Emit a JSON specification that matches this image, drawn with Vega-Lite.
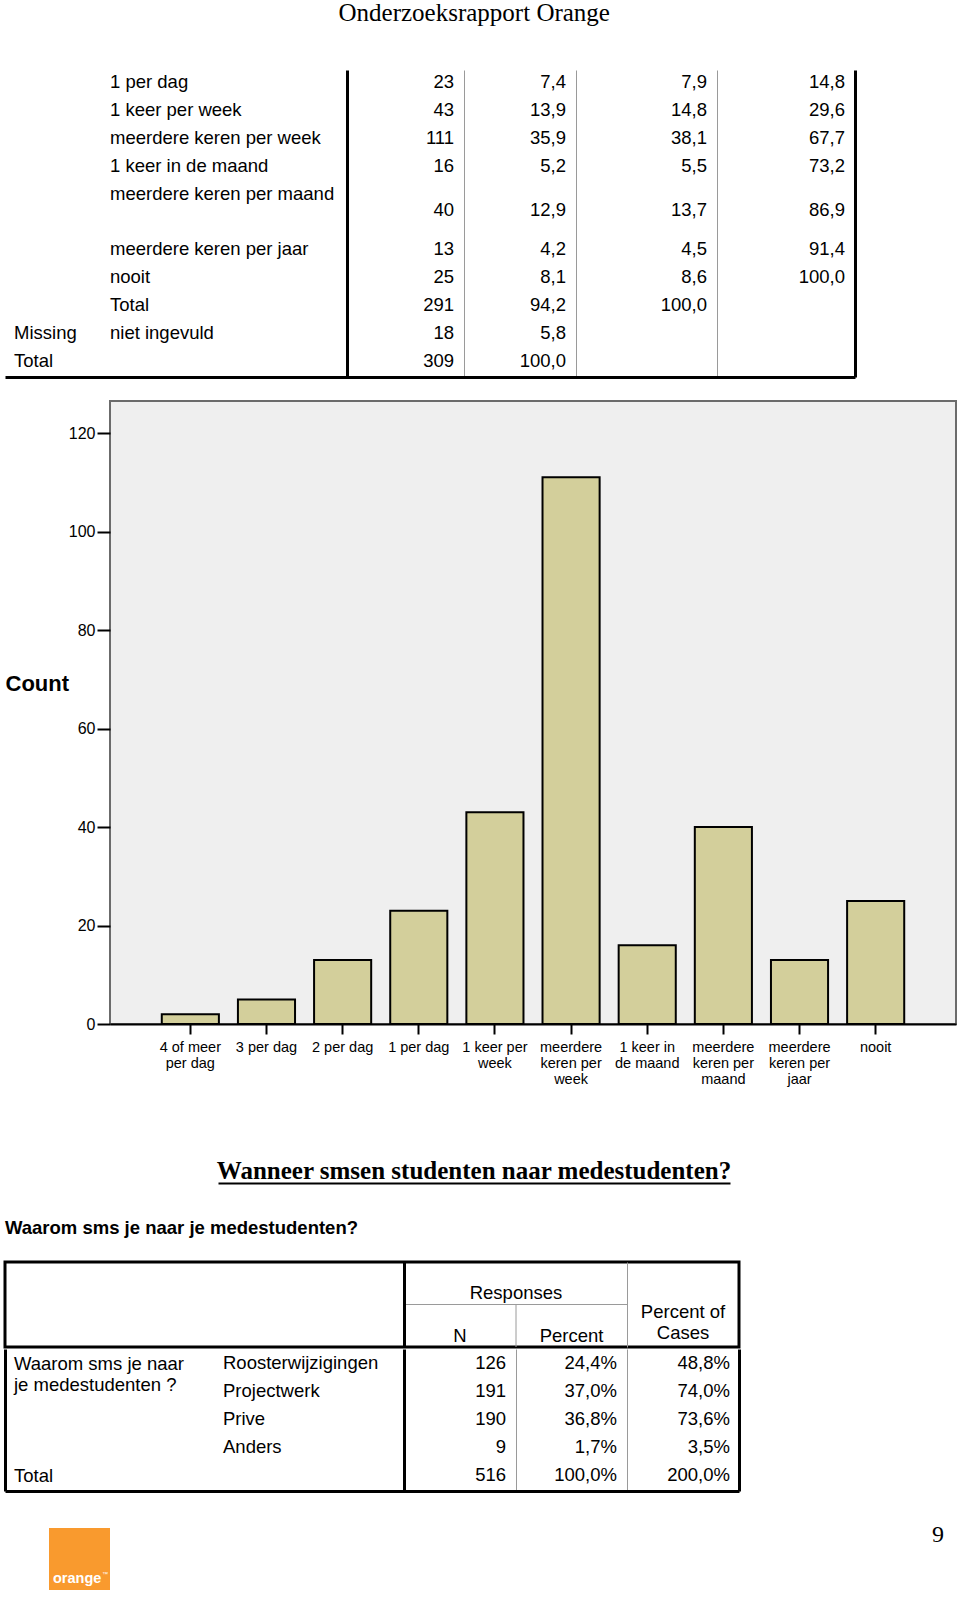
{
  "$schema": "https://vega.github.io/schema/vega-lite/v6.json",
  "background": "white",
  "padding": {"left": 3, "top": 1, "right": 0, "bottom": 0},
  "title": {"text": "Onderzoeksrapport Orange", "font": "Liberation Serif", "fontSize": 25, "fontWeight": "normal", "color": "black", "anchor": "middle", "offset": 44, "dx": -6},
  "spacing": 0,
  "align": "none",
  "vconcat": [
    {
      "width": 850, "height": 307,
      "data": {"values": [
        {"rij": "r1", "groep": "", "label": "1 per dag", "n": 23, "pct": 7.4, "valid": 7.9, "cum": 14.8},
        {"rij": "r2", "groep": "", "label": "1 keer per week", "n": 43, "pct": 13.9, "valid": 14.8, "cum": 29.6},
        {"rij": "r3", "groep": "", "label": "meerdere keren per week", "n": 111, "pct": 35.9, "valid": 38.1, "cum": 67.7},
        {"rij": "r4", "groep": "", "label": "1 keer in de maand", "n": 16, "pct": 5.2, "valid": 5.5, "cum": 73.2},
        {"rij": "r5", "groep": "", "label": "meerdere keren per maand", "n": 40, "pct": 12.9, "valid": 13.7, "cum": 86.9},
        {"rij": "r6", "groep": "", "label": "meerdere keren per jaar", "n": 13, "pct": 4.2, "valid": 4.5, "cum": 91.4},
        {"rij": "r7", "groep": "", "label": "nooit", "n": 25, "pct": 8.1, "valid": 8.6, "cum": 100.0},
        {"rij": "r8", "groep": "", "label": "Total", "n": 291, "pct": 94.2, "valid": 100.0, "cum": null},
        {"rij": "r9", "groep": "Missing", "label": "niet ingevuld", "n": 18, "pct": 5.8, "valid": null, "cum": null},
        {"rij": "r10", "groep": "Total", "label": "", "n": 309, "pct": 100.0, "valid": null, "cum": null}
      ]},
      "encoding": {
        "y": {"field": "rij", "type": "ordinal", "scale": {"type": "band", "domain": ["r1", "r2", "r3", "r4", "r5", "r5b", "r6", "r7", "r8", "r9", "r10"], "paddingInner": 0, "paddingOuter": 0}, "axis": null}
      },
      "layer": [
        {
          "mark": {"type": "text", "align": "left", "dx": 9, "dy": -2},
          "encoding": {
            "x": {"datum": 0, "type": "quantitative",
              "scale": {"type": "linear", "domain": [0, 1, 2, 3, 4, 5, 6], "range": [0, 96, 342, 459, 571, 712, 850], "nice": false, "zero": false},
              "axis": {"orient": "bottom", "values": [2, 3, 4, 5, 6], "grid": true,
                "gridColor": {"condition": {"test": "datum.value === 2 || datum.value === 6", "value": "black"}, "value": "#9a9a9a"},
                "gridWidth": {"condition": {"test": "datum.value === 2 || datum.value === 6", "value": 3}, "value": 1},
                "labels": false, "ticks": false, "domain": true, "domainColor": "black", "domainWidth": 3, "title": null, "zindex": 1}},
            "text": {"field": "groep"}
          }
        },
        {
          "mark": {"type": "text", "align": "left", "dx": 9, "dy": -2},
          "encoding": {"x": {"datum": 1, "type": "quantitative"}, "text": {"field": "label"}}
        },
        {
          "mark": {"type": "text", "align": "right", "dx": -10, "dy": {"expr": "datum.rij === 'r5' ? 14 : -2"}},
          "encoding": {"x": {"datum": 3, "type": "quantitative"}, "text": {"field": "n", "type": "quantitative", "format": "d"}}
        },
        {
          "mark": {"type": "text", "align": "right", "dx": -10, "dy": {"expr": "datum.rij === 'r5' ? 14 : -2"}},
          "encoding": {"x": {"datum": 4, "type": "quantitative"}, "text": {"field": "pct", "type": "quantitative", "format": ".1f"}}
        },
        {
          "transform": [{"filter": "isValid(datum.valid)"}],
          "mark": {"type": "text", "align": "right", "dx": -10, "dy": {"expr": "datum.rij === 'r5' ? 14 : -2"}},
          "encoding": {"x": {"datum": 5, "type": "quantitative"}, "text": {"field": "valid", "type": "quantitative", "format": ".1f"}}
        },
        {
          "transform": [{"filter": "isValid(datum.cum)"}],
          "mark": {"type": "text", "align": "right", "dx": -10, "dy": {"expr": "datum.rij === 'r5' ? 14 : -2"}},
          "encoding": {"x": {"datum": 6, "type": "quantitative"}, "text": {"field": "cum", "type": "quantitative", "format": ".1f"}}
        }
      ]
    },
    {
      "width": 10, "height": 23,
      "data": {"values": [{}]},
      "mark": {"type": "text", "text": ""}
    },
    {
      "spacing": 0,
      "bounds": "flush",
      "hconcat": [
        {
          "width": 105, "height": 623,
          "data": {"values": [{}]},
          "mark": {"type": "text", "text": ""}
        },
        {
          "width": 846, "height": 623,
          "view": {"fill": "#EFEFEF", "stroke": "#6b6b6b", "strokeWidth": 2},
          "data": {"values": [
            {"frequentie": "4 of meer per dag", "aantal": 2},
            {"frequentie": "3 per dag", "aantal": 5},
            {"frequentie": "2 per dag", "aantal": 13},
            {"frequentie": "1 per dag", "aantal": 23},
            {"frequentie": "1 keer per week", "aantal": 43},
            {"frequentie": "meerdere keren per week", "aantal": 111},
            {"frequentie": "1 keer in de maand", "aantal": 16},
            {"frequentie": "meerdere keren per maand", "aantal": 40},
            {"frequentie": "meerdere keren per jaar", "aantal": 13},
            {"frequentie": "nooit", "aantal": 25}
          ]},
          "mark": {"type": "bar", "fill": "#D3CF9B", "stroke": "black", "strokeWidth": 2},
          "encoding": {
            "x": {"field": "frequentie", "type": "nominal", "sort": null,
              "scale": {"paddingInner": 0.25, "paddingOuter": 0.68},
              "axis": {"title": null, "labelAngle": 0, "labelFontSize": 14.5, "labelLineHeight": 16, "labelPadding": 6, "labelBaseline": "top",
                "tickSize": 10, "tickWidth": 2, "tickColor": "black", "domainColor": "black", "domainWidth": 2, "zindex": 1,
                "labelExpr": "datum.value == '4 of meer per dag' ? ['4 of meer', 'per dag'] : datum.value == '1 keer per week' ? ['1 keer per', 'week'] : datum.value == 'meerdere keren per week' ? ['meerdere', 'keren per', 'week'] : datum.value == '1 keer in de maand' ? ['1 keer in', 'de maand'] : datum.value == 'meerdere keren per maand' ? ['meerdere', 'keren per', 'maand'] : datum.value == 'meerdere keren per jaar' ? ['meerdere', 'keren per', 'jaar'] : datum.label"}},
            "y": {"field": "aantal", "type": "quantitative",
              "scale": {"domain": [0, 126.5], "nice": false},
              "axis": {"values": [0, 20, 40, 60, 80, 100, 120], "title": "Count", "titleAngle": 0, "titleAlign": "left", "titleBaseline": "middle",
                "titleX": -105, "titleY": 282, "titleFontSize": 22, "titleFontWeight": "bold",
                "labelFontSize": 16, "labelPadding": 2, "tickSize": 13, "tickWidth": 2, "tickColor": "black", "domain": false, "grid": false, "zindex": 1}}
          }
        }
      ]
    },
    {
      "spacing": 0,
      "bounds": "flush",
      "hconcat": [
        {
          "width": 213, "height": 96,
          "data": {"values": [{}]},
          "mark": {"type": "text", "text": ""}
        },
        {
          "width": 512, "height": 96,
          "data": {"values": [{"titel": "Wanneer smsen studenten naar medestudenten?"}]},
          "mark": {"type": "text", "font": "Liberation Serif", "fontSize": 25, "fontWeight": "bold", "dy": 36},
          "encoding": {
            "x": {"datum": 0.5, "type": "quantitative", "scale": {"domain": [0, 1], "nice": false, "zero": false},
              "axis": {"labels": false, "ticks": false, "grid": false, "domain": true, "domainColor": "black", "domainWidth": 2, "title": null}},
            "text": {"field": "titel"}
          }
        }
      ]
    },
    {
      "width": 600, "height": 76,
      "data": {"values": [{"titel": "Waarom sms je naar je medestudenten?"}]},
      "mark": {"type": "text", "align": "left", "fontWeight": "bold", "fontSize": 18.5, "dy": 6},
      "encoding": {"x": {"value": 0}, "text": {"field": "titel"}}
    },
    {
      "width": 734, "height": 85,
      "view": {"stroke": "black", "strokeWidth": 3},
      "layer": [
        {
          "data": {"values": [{"kop": "Responses"}]},
          "mark": {"type": "text", "dy": 10},
          "encoding": {
            "x": {"datum": 3, "type": "quantitative",
              "scale": {"type": "linear", "domain": [0, 1, 2, 3, 4, 5], "range": [0, 209, 399, 511, 622, 734], "nice": false, "zero": false},
              "axis": {"orient": "bottom", "values": [2, 4], "grid": true,
                "gridColor": {"condition": {"test": "datum.value === 2", "value": "black"}, "value": "#9a9a9a"},
                "gridWidth": {"condition": {"test": "datum.value === 2", "value": 3}, "value": 1},
                "labels": false, "ticks": false, "domain": false, "title": null, "zindex": 1}},
            "y": {"datum": "boven", "type": "nominal", "scale": {"type": "band", "domain": ["boven", "onder"], "paddingInner": 0, "paddingOuter": 0}, "axis": null},
            "text": {"field": "kop"}
          }
        },
        {
          "data": {"values": [{"kop": "N"}]},
          "mark": {"type": "text", "dy": 10},
          "encoding": {"x": {"datum": 2.5, "type": "quantitative"}, "y": {"datum": "onder", "type": "nominal"}, "text": {"field": "kop"}}
        },
        {
          "data": {"values": [{"kop": "Percent"}]},
          "mark": {"type": "text", "dy": 10},
          "encoding": {"x": {"datum": 3.5, "type": "quantitative"}, "y": {"datum": "onder", "type": "nominal"}, "text": {"field": "kop"}}
        },
        {
          "data": {"values": [{"kop": "Percent of"}]},
          "mark": {"type": "text", "dy": -14},
          "encoding": {"x": {"datum": 4.5, "type": "quantitative"}, "y": {"datum": "onder", "type": "nominal"}, "text": {"field": "kop"}}
        },
        {
          "data": {"values": [{"kop": "Cases"}]},
          "mark": {"type": "text", "dy": 7},
          "encoding": {"x": {"datum": 4.5, "type": "quantitative"}, "y": {"datum": "onder", "type": "nominal"}, "text": {"field": "kop"}}
        },
        {
          "data": {"values": [{}]},
          "mark": {"type": "rule", "color": "#9a9a9a", "strokeWidth": 1},
          "encoding": {"x": {"datum": 2, "type": "quantitative"}, "x2": {"datum": 4}, "y": {"datum": "onder", "type": "nominal", "bandPosition": 0}}
        },
        {
          "data": {"values": [{}]},
          "mark": {"type": "rule", "color": "#9a9a9a", "strokeWidth": 1},
          "encoding": {"x": {"datum": 3, "type": "quantitative"}, "y": {"datum": "onder", "type": "nominal", "bandPosition": 0}, "y2": {"value": "height"}}
        }
      ]
    },
    {
      "width": 734, "height": 142,
      "data": {"values": [
        {"rij": "r1", "groep": "Waarom sms je naar\nje medestudenten ?", "reden": "Roosterwijzigingen", "n": 126, "aandeel": 0.244, "cases": 0.488},
        {"rij": "r2", "groep": "", "reden": "Projectwerk", "n": 191, "aandeel": 0.370, "cases": 0.740},
        {"rij": "r3", "groep": "", "reden": "Prive", "n": 190, "aandeel": 0.368, "cases": 0.736},
        {"rij": "r4", "groep": "", "reden": "Anders", "n": 9, "aandeel": 0.017, "cases": 0.035},
        {"rij": "r5", "groep": "Total", "reden": "", "n": 516, "aandeel": 1.0, "cases": 2.0}
      ]},
      "encoding": {
        "y": {"field": "rij", "type": "ordinal", "scale": {"type": "band", "domain": ["r1", "r2", "r3", "r4", "r5"], "paddingInner": 0, "paddingOuter": 0.036}, "axis": null}
      },
      "layer": [
        {
          "mark": {"type": "text", "align": "left", "baseline": "top", "dx": 9, "dy": -9, "lineBreak": "\n", "lineHeight": 21},
          "encoding": {
            "x": {"datum": 0, "type": "quantitative",
              "scale": {"type": "linear", "domain": [0, 1, 2, 3, 4, 5], "range": [0, 209, 399, 511, 622, 734], "nice": false, "zero": false},
              "axis": {"orient": "bottom", "values": [0, 2, 3, 4, 5], "grid": true,
                "gridColor": {"condition": {"test": "datum.value === 0 || datum.value === 2 || datum.value === 5", "value": "black"}, "value": "#9a9a9a"},
                "gridWidth": {"condition": {"test": "datum.value === 0 || datum.value === 2 || datum.value === 5", "value": 3}, "value": 1},
                "labels": false, "ticks": false, "domain": true, "domainColor": "black", "domainWidth": 3, "title": null, "zindex": 1}},
            "text": {"field": "groep"}
          }
        },
        {
          "mark": {"type": "text", "align": "left", "dx": 9, "dy": -1},
          "encoding": {"x": {"datum": 1, "type": "quantitative"}, "text": {"field": "reden"}}
        },
        {
          "mark": {"type": "text", "align": "right", "dx": -10, "dy": -1},
          "encoding": {"x": {"datum": 3, "type": "quantitative"}, "text": {"field": "n", "type": "quantitative", "format": "d"}}
        },
        {
          "mark": {"type": "text", "align": "right", "dx": -10, "dy": -1},
          "encoding": {"x": {"datum": 4, "type": "quantitative"}, "text": {"field": "aandeel", "type": "quantitative", "format": ".1%"}}
        },
        {
          "mark": {"type": "text", "align": "right", "dx": -9, "dy": -1},
          "encoding": {"x": {"datum": 5, "type": "quantitative"}, "text": {"field": "cases", "type": "quantitative", "format": ".1%"}}
        }
      ]
    },
    {
      "width": 10, "height": 31.5,
      "data": {"values": [{}]},
      "mark": {"type": "text", "text": ""}
    },
    {
      "spacing": 0,
      "hconcat": [
        {
          "width": 44, "height": 62,
          "data": {"values": [{}]},
          "mark": {"type": "text", "text": ""}
        },
        {
          "width": 61, "height": 62,
          "view": {"fill": "#F99A2E", "stroke": null},
          "data": {"values": [{"merk": "orange", "teken": "™"}]},
          "layer": [
            {
              "mark": {"type": "text", "color": "white", "fontWeight": "bold", "fontSize": 14.5, "align": "left", "baseline": "alphabetic", "dx": 4, "dy": -7},
              "encoding": {"x": {"value": 0}, "y": {"value": "height"}, "text": {"field": "merk"}}
            },
            {
              "mark": {"type": "text", "color": "white", "fontSize": 6, "align": "left", "baseline": "alphabetic", "dx": 53, "dy": -14},
              "encoding": {"x": {"value": 0}, "y": {"value": "height"}, "text": {"field": "teken"}}
            }
          ]
        },
        {
          "width": 834, "height": 62,
          "data": {"values": [{"pagina": "9"}]},
          "mark": {"type": "text", "font": "Liberation Serif", "fontSize": 24, "align": "right", "baseline": "alphabetic", "dy": 14},
          "encoding": {"x": {"value": "width"}, "y": {"value": 0}, "text": {"field": "pagina"}}
        }
      ]
    }
  ],
  "config": {
    "view": {"stroke": null},
    "locale": {"number": {"decimal": ",", "thousands": ".", "grouping": [3], "currency": ["€", ""]}},
    "text": {"font": "Liberation Sans", "fontSize": 18.5, "color": "black"},
    "axis": {"labelFont": "Liberation Sans", "titleFont": "Liberation Sans", "labelColor": "black", "titleColor": "black"}
  }
}
